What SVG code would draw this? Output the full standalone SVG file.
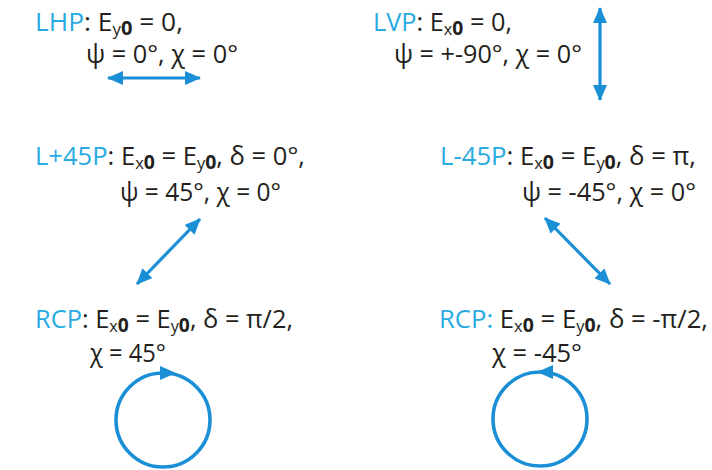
<svg xmlns="http://www.w3.org/2000/svg" width="712" height="470" viewBox="0 0 712 470">
<defs>
<style>
text{font-family:"Open Sans","Noto Sans","Liberation Sans",sans-serif;font-size:25px;fill:#231f20}
.lab{fill:#29abe2}
.sx{font-size:16px}
.s0{font-weight:bold;font-size:19px}
.arr{stroke:#1b8fd5;stroke-width:3.2;fill:none}
.circ{stroke:#1b8fd5;stroke-width:3.6;fill:none}
.head{fill:#1b8fd5}
</style>
<marker id="ah" viewBox="0 0 16 14" refX="15" refY="7" markerWidth="16" markerHeight="14" markerUnits="userSpaceOnUse" orient="auto-start-reverse">
<path d="M0,0 L16,7 L0,14 Z" class="head"/>
</marker>
</defs>
<rect width="712" height="470" fill="#fff"/>

<g id="lhp">
<text x="35" y="31" textLength="148" lengthAdjust="spacingAndGlyphs"><tspan class="lab">LHP</tspan>: E<tspan class="sx" dy="4">y</tspan><tspan class="s0">0</tspan><tspan dy="-4"> = 0,</tspan></text>
<text x="86" y="63" textLength="152" lengthAdjust="spacingAndGlyphs">ψ = 0°, χ = 0°</text>
<line class="arr" x1="108" y1="78" x2="200" y2="78" marker-start="url(#ah)" marker-end="url(#ah)"/>
</g>

<g id="lvp">
<text x="373" y="31" textLength="139" lengthAdjust="spacingAndGlyphs"><tspan class="lab">LVP</tspan>: E<tspan class="sx" dy="4">x</tspan><tspan class="s0">0</tspan><tspan dy="-4"> = 0,</tspan></text>
<text x="394" y="63" textLength="188" lengthAdjust="spacingAndGlyphs">ψ = +-90°, χ = 0°</text>
<line class="arr" x1="600" y1="8" x2="600" y2="100" marker-start="url(#ah)" marker-end="url(#ah)"/>
</g>

<g id="l45p">
<text x="35" y="165" textLength="270" lengthAdjust="spacingAndGlyphs"><tspan class="lab">L+45P</tspan>: E<tspan class="sx" dy="4">x</tspan><tspan class="s0">0</tspan><tspan dy="-4"> = E</tspan><tspan class="sx" dy="4">y</tspan><tspan class="s0">0</tspan><tspan dy="-4">, δ = 0°,</tspan></text>
<text x="120" y="201" textLength="161" lengthAdjust="spacingAndGlyphs">ψ = 45°, χ = 0°</text>
<line class="arr" x1="137" y1="284" x2="200" y2="219" marker-start="url(#ah)" marker-end="url(#ah)"/>
</g>

<g id="lm45p">
<text x="440" y="165" textLength="256" lengthAdjust="spacingAndGlyphs"><tspan class="lab">L-45P</tspan>: E<tspan class="sx" dy="4">x</tspan><tspan class="s0">0</tspan><tspan dy="-4"> = E</tspan><tspan class="sx" dy="4">y</tspan><tspan class="s0">0</tspan><tspan dy="-4">, δ = π,</tspan></text>
<text x="522" y="201" textLength="174" lengthAdjust="spacingAndGlyphs">ψ = -45°, χ = 0°</text>
<line class="arr" x1="545" y1="218" x2="610" y2="284" marker-start="url(#ah)" marker-end="url(#ah)"/>
</g>

<g id="rcp1">
<text x="35" y="328" textLength="258" lengthAdjust="spacingAndGlyphs"><tspan class="lab">RCP</tspan>: E<tspan class="sx" dy="4">x</tspan><tspan class="s0">0</tspan><tspan dy="-4"> = E</tspan><tspan class="sx" dy="4">y</tspan><tspan class="s0">0</tspan><tspan dy="-4">, δ = π/2,</tspan></text>
<text x="90" y="362" textLength="76" lengthAdjust="spacingAndGlyphs">χ = 45°</text>
<circle class="circ" cx="163" cy="420" r="47"/>
<path class="head" d="M176,373 L160,366 L160,380 Z"/>
</g>

<g id="rcp2">
<text x="439" y="328" textLength="269" lengthAdjust="spacingAndGlyphs"><tspan class="lab">RCP:</tspan> E<tspan class="sx" dy="4">x</tspan><tspan class="s0">0</tspan><tspan dy="-4"> = E</tspan><tspan class="sx" dy="4">y</tspan><tspan class="s0">0</tspan><tspan dy="-4">, δ = -π/2,</tspan></text>
<text x="492" y="362" textLength="90" lengthAdjust="spacingAndGlyphs">χ = -45°</text>
<circle class="circ" cx="540" cy="419" r="47"/>
<path class="head" d="M537,372 L553,365 L553,379 Z"/>
</g>
</svg>
